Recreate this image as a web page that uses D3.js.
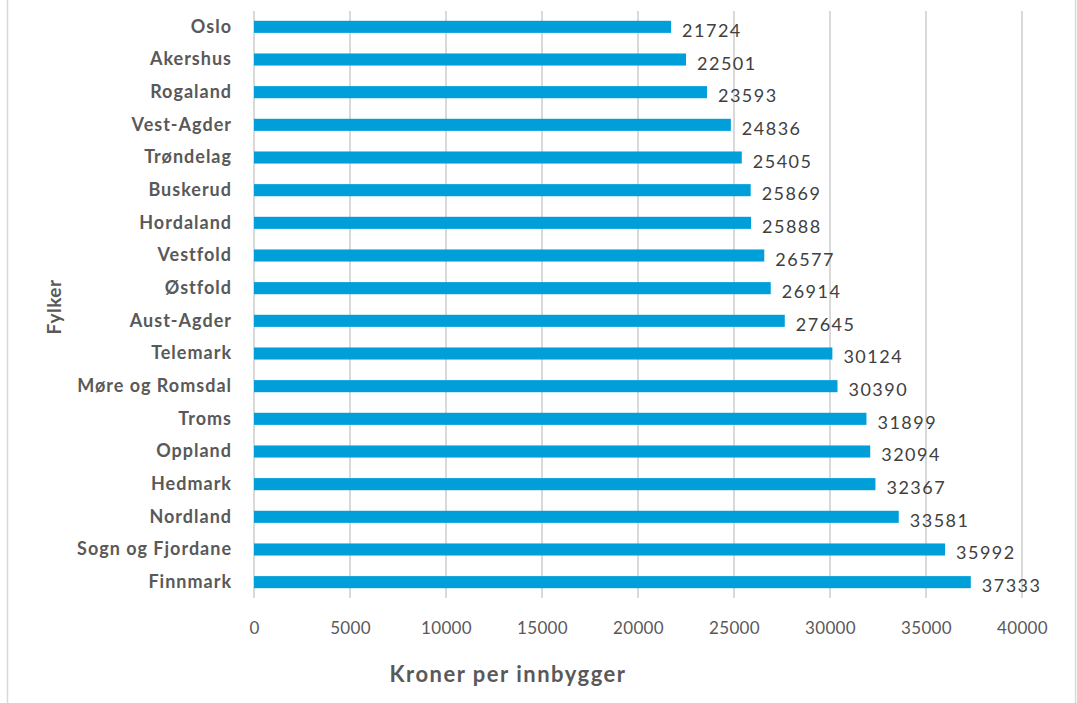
<!DOCTYPE html>
<html><head><meta charset="utf-8">
<script src="https://cdn.jsdelivr.net/npm/d3@7"></script>
<style>body{margin:0;background:#fff}svg{display:block}text{font-family:Lato,"Open Sans",sans-serif}</style>
</head><body><svg id="c" width="1077" height="703"></svg>
<script>
const categories = ["Oslo","Akershus","Rogaland","Vest-Agder","Trøndelag","Buskerud","Hordaland","Vestfold","Østfold","Aust-Agder","Telemark","Møre og Romsdal","Troms","Oppland","Hedmark","Nordland","Sogn og Fjordane","Finnmark"];
const values = [21724,22501,23593,24836,25405,25869,25888,26577,26914,27645,30124,30390,31899,32094,32367,33581,35992,37333];
const xTicks = [0,5000,10000,15000,20000,25000,30000,35000,40000];

const svg = d3.select("#c");
const m = {left:254, right:1022, top:11, bottom:598};
const x = d3.scaleLinear().domain([0,40000]).range([m.left,m.right]);
const y = d3.scaleBand().domain(categories).range([m.top,m.bottom]).paddingInner(0.63).paddingOuter(0.3);

// frame lines
svg.append("line").attr("x1",7.5).attr("x2",7.5).attr("y1",0).attr("y2",703).attr("stroke","#d9d9d9").attr("stroke-width",1.5);
svg.append("line").attr("x1",1075.5).attr("x2",1075.5).attr("y1",0).attr("y2",703).attr("stroke","#d9d9d9").attr("stroke-width",1.5);

// gridlines
svg.append("g").selectAll("line").data(xTicks).join("line")
  .attr("x1",d=>x(d)).attr("x2",d=>x(d)).attr("y1",m.top).attr("y2",m.bottom)
  .attr("stroke","#d9d9d9").attr("stroke-width",2);

// bars
svg.append("g").selectAll("rect").data(values).join("rect")
  .attr("x",x(0)).attr("y",(d,i)=>y(categories[i])).attr("width",d=>x(d)-x(0)).attr("height",y.bandwidth())
  .attr("fill","#009fda");

// value labels
svg.append("g").selectAll("text").data(values).join("text")
  .attr("x",d=>x(d)+11).attr("y",(d,i)=>y(categories[i])+y.bandwidth()/2+10)
  .attr("font-size",18).attr("fill","#404040").attr("letter-spacing",1.5).text(d=>d);

// category labels
const yAxis = d3.axisLeft(y).tickSize(0).tickPadding(22);
const gy = svg.append("g").attr("transform",`translate(${m.left},0)`).call(yAxis);
gy.select(".domain").remove();
gy.selectAll("text").attr("font-size",18).attr("font-weight","bold").attr("fill","#595959").attr("font-family","Lato,sans-serif").attr("letter-spacing",1).attr("dy","0.32em");

// x tick labels
const xAxis = d3.axisBottom(x).tickValues(xTicks).tickSize(0).tickPadding(24).tickFormat(d=>d);
const gx = svg.append("g").attr("transform",`translate(0,${m.bottom})`).call(xAxis);
gx.select(".domain").remove();
gx.selectAll("text").attr("font-size",17).attr("fill","#595959").attr("font-family","Lato,sans-serif").attr("letter-spacing",0.3);

// axis titles
svg.append("text").attr("x",508).attr("y",682).attr("text-anchor","middle").attr("font-size",22).attr("font-weight","bold").attr("fill","#595959").attr("letter-spacing",1.5).text("Kroner per innbygger");
svg.append("text").attr("transform","translate(61,307) rotate(-90)").attr("text-anchor","middle").attr("font-size",19).attr("font-weight","bold").attr("fill","#595959").attr("letter-spacing",0.5).text("Fylker");
</script></body></html>
